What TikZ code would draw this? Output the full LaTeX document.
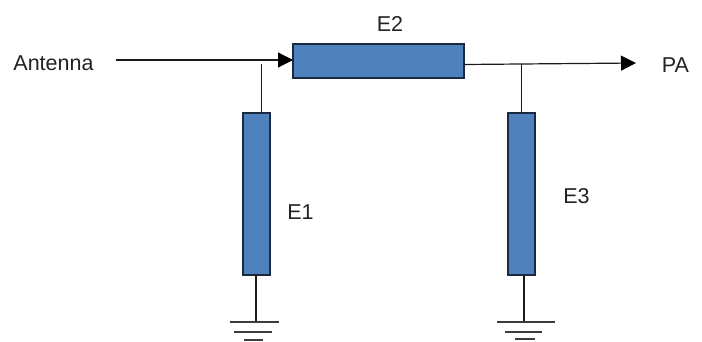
\documentclass[tikz,border=0pt]{standalone}
\usepackage{fontspec}
\setmainfont{Liberation Sans}
\usetikzlibrary{arrows.meta}
\definecolor{boxfill}{HTML}{4F81BD}
\definecolor{boxline}{HTML}{1B2A41}
\definecolor{wire}{HTML}{1A1A1A}
\definecolor{labelc}{HTML}{222222}
\tikzset{
  x=1pt,y=-1pt,
  element/.style={draw=boxline,fill=boxfill,line width=1.3pt,inner sep=0pt,outer sep=0pt,anchor=north west},
  wireline/.style={draw=wire,line width=1.2pt},
  arrowline/.style={wireline,-{Triangle[length=15pt,width=15pt,color=black]}},
  gndline/.style={draw=wire!85,line width=1.4pt},
  lbl/.style={text=labelc,font=\fontsize{21.5}{23}\selectfont,inner sep=0pt,anchor=center}
}
\begin{document}
\begin{tikzpicture}
\useasboundingbox (0,0) rectangle (702,342);
\node[element,minimum width=171pt,minimum height=34pt] (E2) at (293,44) {};
\node[element,minimum width=27pt,minimum height=162pt] (E1) at (243,113) {};
\node[element,minimum width=27pt,minimum height=162pt] (E3) at (508,113) {};
\node[lbl] (tAnt) at (53.5,63) {Antenna};
\node[lbl] (tE2) at (390,24) {E2};
\node[lbl] (tPA) at (675.5,65) {PA};
\node[lbl] (tE1) at (300.5,212) {E1};
\node[lbl] (tE3) at (576.5,196) {E3};
\coordinate (inS) at (116,60);
\coordinate (outS) at (464,64.5);
\coordinate (outE) at (636,63);
\coordinate (j1) at (261.5,64);
\coordinate (j1b) at (261.5,113);
\coordinate (j3) at (521.5,64);
\coordinate (j3b) at (521.5,113);
\coordinate (b1) at (256,275);
\coordinate (g1) at (256,322);
\coordinate (b3) at (524,275);
\coordinate (g3) at (524,322);
\draw[arrowline] (inS) -- (inS -| E2.west);
\draw[arrowline] (outS) -- (outE);
\draw[wireline] (j1) -- (j1b);
\draw[wireline] (j3) -- (j3b);
\draw[wireline] (b1) -- (g1);
\draw[wireline] (b3) -- (g3);
\draw[gndline] (230,322) -- (279,322);
\draw[gndline] (234,332) -- (272,332);
\draw[gndline] (244,340) -- (263,340);
\draw[gndline] (497,322) -- (555,322);
\draw[gndline] (505,332) -- (542,332);
\draw[gndline] (515,339) -- (535,339);
\end{tikzpicture}
\end{document}
